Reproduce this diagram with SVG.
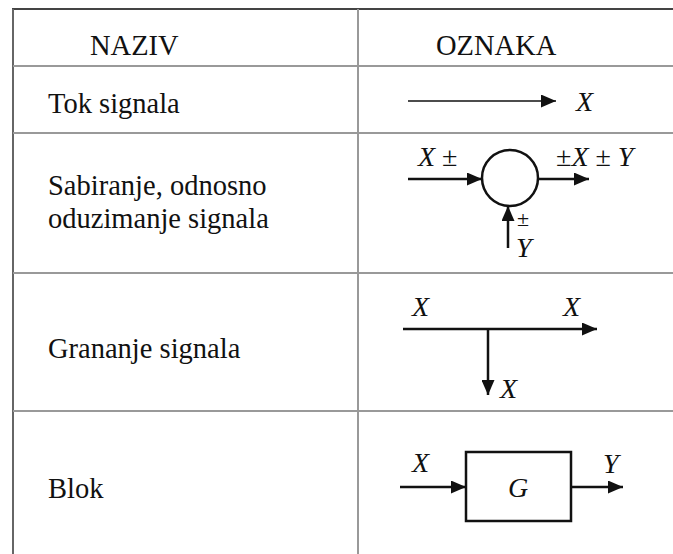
<svg xmlns="http://www.w3.org/2000/svg" width="673" height="554" viewBox="0 0 673 554">
<style>
text{font-family:"Liberation Serif","DejaVu Serif","Times New Roman",serif;fill:#111}
.t{font-size:28.5px}
.m{font-size:28px;font-style:italic}
.g{stroke:#999;stroke-width:2;fill:none}
.k{stroke:#111;stroke-width:2.5;fill:none}
</style>
<defs>
<marker id="ah" viewBox="0 0 15 13" refX="15" refY="6.5" markerWidth="15" markerHeight="13" markerUnits="userSpaceOnUse" orient="auto"><path d="M0,0 L15,6.5 L0,13 Z" fill="#111"/></marker>
</defs>
<rect width="673" height="554" fill="#fff"/>
<g id="table">
<line x1="12" y1="9" x2="673" y2="9" stroke="#444" stroke-width="2"/>
<line x1="13" y1="9" x2="13" y2="554" stroke="#666" stroke-width="2"/>
<line class="g" x1="358" y1="9" x2="358" y2="554"/>
<line class="g" x1="13" y1="66" x2="673" y2="66"/>
<line class="g" x1="13" y1="133" x2="673" y2="133"/>
<line class="g" x1="13" y1="273" x2="673" y2="273"/>
<line class="g" x1="13" y1="411" x2="673" y2="411"/>
</g>
<g id="headers">
<text class="t" x="90" y="55">NAZIV</text>
<text class="t" x="436" y="55">OZNAKA</text>
</g>
<g id="names">
<text class="t" x="48" y="113">Tok signala</text>
<text class="t" x="48" y="195">Sabiranje, odnosno</text>
<text class="t" x="48" y="228">oduzimanje signala</text>
<text class="t" x="48" y="358">Grananje signala</text>
<text class="t" x="48" y="498">Blok</text>
</g>
<g id="sum-node"><circle cx="510" cy="178" r="28" class="k"/></g>
<g id="block-node"><rect x="466" y="452" width="105" height="69" class="k"/><text class="m" x="518" y="497" text-anchor="middle">G</text></g>
<g id="connectors">
<line x1="408" y1="101" x2="556" y2="101" stroke="#111" stroke-width="1.3" marker-end="url(#ah)"/>
<line class="k" x1="408" y1="179" x2="482" y2="179" marker-end="url(#ah)"/>
<line class="k" x1="538" y1="179" x2="589" y2="179" marker-end="url(#ah)"/>
<line class="k" x1="508" y1="248" x2="508" y2="206" marker-end="url(#ah)"/>
<line class="k" x1="403" y1="329" x2="597" y2="329" marker-end="url(#ah)"/>
<line class="k" x1="488" y1="329" x2="488" y2="395" marker-end="url(#ah)"/>
<line class="k" x1="400" y1="487" x2="466" y2="487" marker-end="url(#ah)"/>
<line class="k" x1="571" y1="487" x2="623" y2="487" marker-end="url(#ah)"/>
</g>
<g id="labels">
<text class="m" x="576" y="111">X</text>
<text class="m" x="418" y="166">X <tspan font-style="normal">±</tspan></text>
<text class="m" x="556" y="166"><tspan font-style="normal">±</tspan>X <tspan font-style="normal">±</tspan> Y</text>
<text x="517" y="226" font-size="22">±</text>
<text class="m" x="516" y="257">Y</text>
<text class="m" x="412" y="316">X</text>
<text class="m" x="563" y="316">X</text>
<text class="m" x="500" y="398">X</text>
<text class="m" x="412" y="472">X</text>
<text class="m" x="603" y="473">Y</text>
</g>
</svg>
